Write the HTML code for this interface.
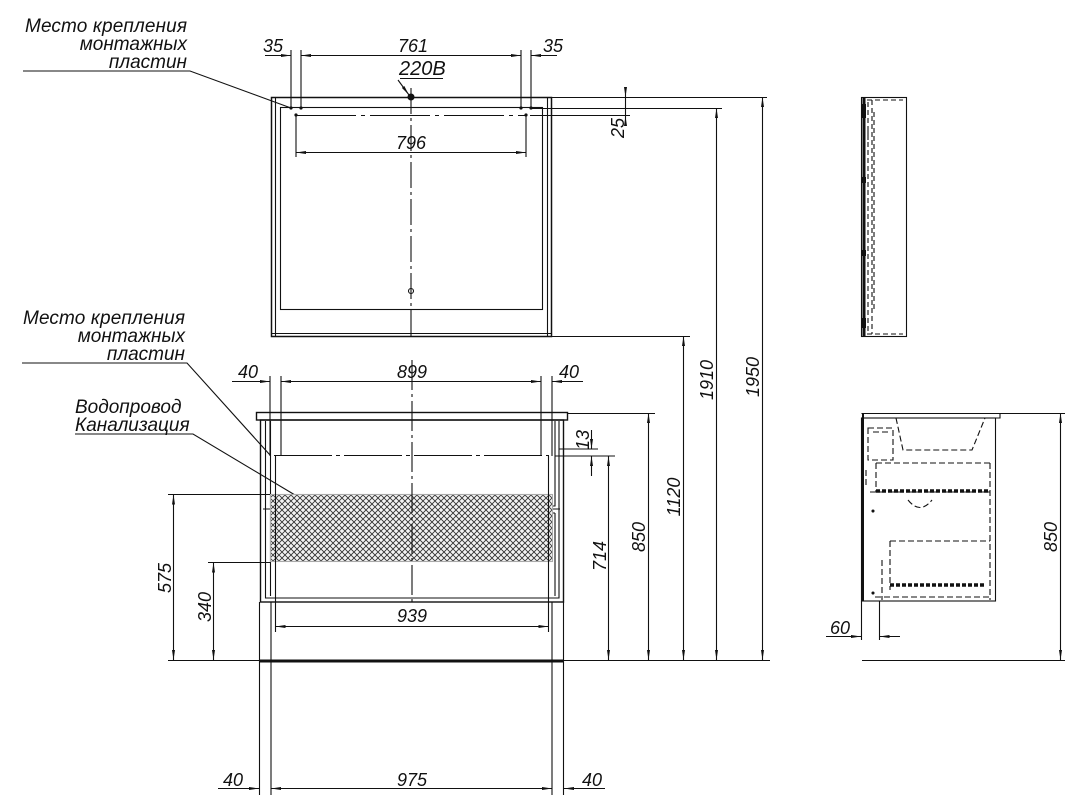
<!DOCTYPE html>
<html><head><meta charset="utf-8"><style>
html,body{margin:0;padding:0;background:#fff;}
svg{display:block;}
text{font-family:"Liberation Sans",sans-serif;font-style:italic;fill:#111;}
</style></head><body>
<svg width="1086" height="800" viewBox="0 0 1086 800" xmlns="http://www.w3.org/2000/svg">
<defs>
<marker id="a" viewBox="0 0 10 6" refX="10" refY="3" markerWidth="10" markerHeight="6" orient="auto-start-reverse" markerUnits="userSpaceOnUse"><path d="M0,1.5 L10,3 L0,4.5z" fill="#111"/></marker>
<pattern id="h" width="6" height="6" patternUnits="userSpaceOnUse"><rect width="6" height="6" fill="#f4f4f4"/><path d="M0,0 L6,6 M6,0 L0,6" stroke="#333" stroke-width="0.9"/></pattern>
</defs>
<g stroke="#111" stroke-width="1.1" fill="none">
<path d="M23,71 H190 L291,108"/>
<path d="M22,363 H187 L270,455"/>
<path d="M75,434 H193 L300,498"/>

<rect x="271.5" y="97.5" width="280" height="239" stroke-width="1.5"/>
<path d="M275.5,98 V336 M547.5,98 V336 M272,333.5 H551"/>
<rect x="280.5" y="107.5" width="262" height="202"/>
<path d="M411,88 V340" stroke-dasharray="26,4,3,4"/>
<path d="M296,115.5 H527" stroke-dasharray="60,5,4,5"/>
<path d="M398,80 L409,95" marker-end="url(#a)"/>
<path d="M400,78.5 H443"/>
<circle cx="411" cy="97" r="3" fill="#111"/>
<circle cx="411" cy="291" r="2.5"/>
<g fill="#111" stroke="none"><circle cx="291" cy="108" r="1.6"/><circle cx="301" cy="108" r="1.6"/><circle cx="521" cy="108" r="1.6"/><circle cx="531" cy="108" r="1.6"/><circle cx="296" cy="115" r="1.6"/><circle cx="526" cy="115" r="1.6"/></g>
<path d="M291,50 V108 M301,50 V108 M521,50 V108 M531,50 V108"/>
<path d="M265,55.5 H291" marker-end="url(#a)"/>
<path d="M301,55.5 H521" marker-start="url(#a)" marker-end="url(#a)"/>
<path d="M557,55.5 H531" marker-end="url(#a)"/>
<path d="M296,115 V157 M526,115 V157"/>
<path d="M296,152.5 H526" marker-start="url(#a)" marker-end="url(#a)"/>
<path d="M551,97.5 H767 M531,108.5 H722 M530,115.5 H630"/>
<path d="M625.5,88 V97" marker-end="url(#a)"/>
<path d="M625.5,126 V116" marker-end="url(#a)"/>
<path d="M625.5,97 V116"/>
<path d="M551,336.5 H690"/>

<rect x="256.5" y="412.5" width="311" height="7.5" stroke-width="1.4"/>
<rect x="260.5" y="420" width="303" height="182" stroke-width="1.4"/>
<path d="M265.5,421 V598 H559 V421"/>
<path d="M270.5,421 V506 H555 V421 M270.5,513 H555 M270.5,513 V596 M555,513 V596"/>
<path d="M263,509 H560"/>
<rect x="270.5" y="494.5" width="282" height="67" fill="url(#h)" stroke="#aaa"/>
<path d="M274,455.5 H549" stroke-dasharray="58,4,4,4"/>
<path d="M412,360 V605" stroke-dasharray="30,4,3,4"/>
<path d="M270,376 V456 M281,376 V456 M541,376 V456 M552,376 V456"/>
<path d="M232,381.5 H270" marker-end="url(#a)"/>
<path d="M281,381.5 H541" marker-start="url(#a)" marker-end="url(#a)"/>
<path d="M583,381.5 H552" marker-end="url(#a)"/>
<path d="M275.5,456 V632 M548.5,456 V632"/>
<path d="M275.5,626.5 H548.5" marker-start="url(#a)" marker-end="url(#a)"/>
<path d="M259,661 H564" stroke-width="3"/>
<path d="M168,660.5 H770"/>
<path d="M259.5,602 V795 M271,602 V795 M552,602 V795 M563.5,602 V795"/>
<path d="M218,788.5 H259" marker-end="url(#a)"/>
<path d="M271,788.5 H552" marker-start="url(#a)" marker-end="url(#a)"/>
<path d="M605,788.5 H564" marker-end="url(#a)"/>
<path d="M168,494.5 H270 M208,562.5 H270"/>
<path d="M173.5,494.5 V660" marker-start="url(#a)" marker-end="url(#a)"/>
<path d="M213.5,562.5 V660" marker-start="url(#a)" marker-end="url(#a)"/>
<path d="M567,413.5 H655 M559,449 H598 M555,456 H615"/>
<path d="M591.5,430 V449" marker-end="url(#a)"/>
<path d="M591.5,476 V456" marker-end="url(#a)"/>
<path d="M608.5,456 V660" marker-start="url(#a)" marker-end="url(#a)"/>
<path d="M648.5,413 V660" marker-start="url(#a)" marker-end="url(#a)"/>
<path d="M683.5,336 V660" marker-start="url(#a)" marker-end="url(#a)"/>
<path d="M716.5,108 V660" marker-start="url(#a)" marker-end="url(#a)"/>
<path d="M762.5,97 V660" marker-start="url(#a)" marker-end="url(#a)"/>

<rect x="861.5" y="97.5" width="45" height="239"/>
<path d="M864,97 V337" stroke-width="3"/>
<g stroke-dasharray="5,3"><path d="M867,100 H903 M867,334 H903 M868,102 V332 M872,100 V334 M874,112 V310 M868,130 V140"/></g>
<g fill="#111" stroke="none"><rect x="861" y="104" width="5" height="14"/><rect x="861" y="177" width="5" height="6"/><rect x="861" y="250" width="5" height="6"/><rect x="861" y="318" width="5" height="10"/></g>

<path d="M861.5,413.5 H1000 V418 H995"/>
<rect x="861.5" y="418" width="134" height="183"/>
<path d="M863,413 V601" stroke-width="2"/>
<g stroke-dasharray="6,3">
<path d="M896,418 L903,450 H972 L985,418"/>
<path d="M868,428 H893 V460 H868z M873,432 H890"/>
<path d="M876,463 H990 M876,463 V492 M990,463 V600 M870,492 H990"/>
<path d="M890,541 H990 M890,541 V590"/>
<path d="M875,597 H990"/>
<path d="M908,500 Q920,515 932,500"/>
<path d="M866,470 V485 M882,560 V600"/>
</g>
<path d="M876,491 H988" stroke-width="3.5" stroke-dasharray="4,2"/>
<path d="M890,585 H985" stroke-width="3.5" stroke-dasharray="4,2"/>
<circle cx="873" cy="511" r="1" fill="#111"/>
<circle cx="873" cy="593" r="1" fill="#111"/>
<path d="M1000,413.5 H1065 M862,660.5 H1065"/>
<path d="M1060.5,413 V660" marker-start="url(#a)" marker-end="url(#a)"/>
<path d="M861.5,601 V640 M879.5,601 V640"/>
<path d="M826,636.5 H861" marker-end="url(#a)"/>
<path d="M900,636.5 H879.5" marker-end="url(#a)"/>
</g>

<g font-size="19">
<text x="187" y="32" text-anchor="end" textLength="162">Место крепления</text>
<text x="187" y="50" text-anchor="end">монтажных</text>
<text x="187" y="68" text-anchor="end">пластин</text>
<text x="185" y="324" text-anchor="end" textLength="162">Место крепления</text>
<text x="185" y="342" text-anchor="end">монтажных</text>
<text x="185" y="360" text-anchor="end">пластин</text>
<text x="75" y="413">Водопровод</text>
<text x="75" y="431">Канализация</text>
<text x="399" y="75" font-size="20">220В</text>
</g>
<g font-size="18" text-anchor="middle">
<text x="273" y="52">35</text>
<text x="413" y="52">761</text>
<text x="553" y="52">35</text>
<text x="411" y="149">796</text>
<text x="248" y="378">40</text>
<text x="412" y="378">899</text>
<text x="569" y="378">40</text>
<text x="412" y="622">939</text>
<text x="233" y="786">40</text>
<text x="412" y="786">975</text>
<text x="592" y="786">40</text>
<text x="840" y="634">60</text>
<text transform="translate(624,128) rotate(-90)">25</text>
<text transform="translate(589,440) rotate(-90)">13</text>
<text transform="translate(606,556) rotate(-90)">714</text>
<text transform="translate(645,537) rotate(-90)">850</text>
<text transform="translate(680,497) rotate(-90)">1120</text>
<text transform="translate(713,380) rotate(-90)">1910</text>
<text transform="translate(759,377) rotate(-90)">1950</text>
<text transform="translate(171,578) rotate(-90)">575</text>
<text transform="translate(211,607) rotate(-90)">340</text>
<text transform="translate(1057,537) rotate(-90)">850</text>
</g>
</svg>
</body></html>
